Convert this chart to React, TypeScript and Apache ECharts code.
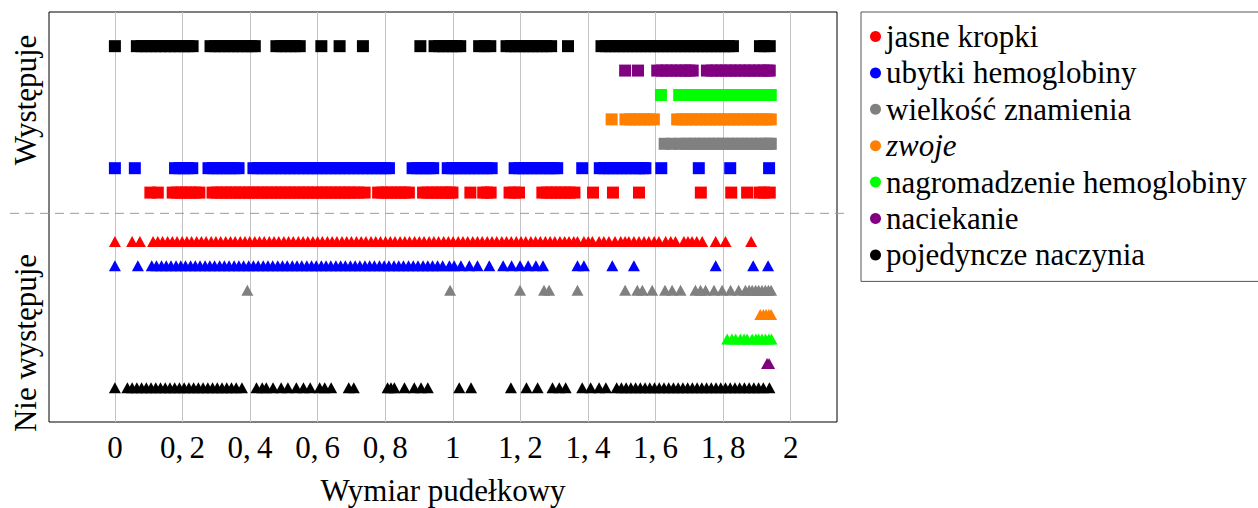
import React, { useEffect, useRef } from 'react';
import * as echarts from 'echarts';

const FONT = 'Liberation Serif';

const features = [
  'jasne kropki',
  'ubytki hemoglobiny',
  'wielkość znamienia',
  'zwoje',
  'nagromadzenie hemoglobiny',
  'naciekanie',
  'pojedyncze naczynia',
];
const colors = ['#ff0000', '#0000ff', '#808080', '#ff8000', '#00ff00', '#800080', '#000000'];
// row positions on the y axis
const presentRow = [8, 9, 10, 11, 12, 13, 14];
const absentRow = [6, 5, 4, 3, 2, 1, 0];
const separatorY = 7.15;
const xTicks = [0, 0.2, 0.4, 0.6, 0.8, 1, 1.2, 1.4, 1.6, 1.8, 2];
const groupLabels = ['Występuje', 'Nie występuje'];
const xTitle = 'Wymiar pudełkowy';

// ---- Występuje (present) ----
const jasneKropkiTak = [0.105, 0.127, 0.171, 0.184, 0.197, 0.211, 0.224, 0.238, 0.25, 0.289, 0.302, 0.316, 0.329, 0.343, 0.356, 0.37, 0.383, 0.397, 0.41, 0.424, 0.437, 0.451, 0.464, 0.478, 0.491, 0.505, 0.518, 0.532, 0.545, 0.559, 0.572, 0.586, 0.599, 0.613, 0.626, 0.64, 0.653, 0.667, 0.68, 0.694, 0.707, 0.721, 0.739, 0.779, 0.792, 0.806, 0.819, 0.833, 0.846, 0.858, 0.87, 0.912, 0.925, 0.939, 0.952, 0.966, 0.979, 0.991, 0.999, 1.052, 1.09, 1.101, 1.112, 1.168, 1.182, 1.196, 1.265, 1.278, 1.292, 1.305, 1.319, 1.332, 1.346, 1.36, 1.415, 1.474, 1.551, 1.734, 1.824, 1.871, 1.908, 1.921, 1.938];
const ubytkiTak = [0, 0.059, 0.178, 0.191, 0.204, 0.217, 0.229, 0.277, 0.29, 0.303, 0.316, 0.329, 0.342, 0.354, 0.366, 0.41, 0.423, 0.437, 0.45, 0.464, 0.477, 0.491, 0.504, 0.518, 0.531, 0.545, 0.558, 0.572, 0.585, 0.599, 0.612, 0.626, 0.639, 0.653, 0.666, 0.68, 0.693, 0.707, 0.72, 0.734, 0.747, 0.761, 0.774, 0.788, 0.8, 0.811, 0.881, 0.894, 0.907, 0.919, 0.931, 0.942, 0.985, 0.998, 1.011, 1.024, 1.037, 1.05, 1.063, 1.076, 1.089, 1.102, 1.115, 1.183, 1.196, 1.209, 1.222, 1.235, 1.248, 1.261, 1.274, 1.287, 1.298, 1.309, 1.383, 1.435, 1.448, 1.461, 1.474, 1.487, 1.5, 1.513, 1.526, 1.539, 1.552, 1.563, 1.57, 1.617, 1.728, 1.821, 1.936];
const wielkoscTak = [1.627, 1.648, 1.671, 1.688, 1.702, 1.716, 1.73, 1.744, 1.758, 1.772, 1.786, 1.8, 1.814, 1.828, 1.842, 1.856, 1.87, 1.884, 1.898, 1.912, 1.926, 1.936, 1.941];
const zwojeTak = [1.47, 1.511, 1.525, 1.539, 1.553, 1.567, 1.581, 1.595, 1.664, 1.678, 1.692, 1.706, 1.72, 1.734, 1.748, 1.762, 1.776, 1.79, 1.804, 1.818, 1.832, 1.846, 1.86, 1.874, 1.888, 1.902, 1.916, 1.93, 1.941];
const nagromadzenieTak = [1.616, 1.67, 1.684, 1.698, 1.712, 1.726, 1.74, 1.754, 1.768, 1.782, 1.796, 1.81, 1.824, 1.838, 1.852, 1.866, 1.88, 1.894, 1.908, 1.922, 1.934, 1.941];
const naciekanieTak = [1.51, 1.548, 1.605, 1.619, 1.633, 1.647, 1.661, 1.675, 1.689, 1.7, 1.71, 1.752, 1.766, 1.78, 1.794, 1.808, 1.822, 1.836, 1.85, 1.864, 1.878, 1.892, 1.906, 1.92, 1.932, 1.938];
const naczyniaTak = [0, 0.065, 0.079, 0.093, 0.107, 0.121, 0.135, 0.149, 0.163, 0.177, 0.191, 0.205, 0.218, 0.23, 0.283, 0.296, 0.31, 0.323, 0.337, 0.35, 0.364, 0.377, 0.391, 0.404, 0.414, 0.478, 0.492, 0.506, 0.52, 0.534, 0.547, 0.611, 0.665, 0.734, 0.904, 0.946, 0.959, 0.972, 0.985, 0.998, 1.011, 1.022, 1.078, 1.095, 1.111, 1.159, 1.172, 1.185, 1.198, 1.211, 1.224, 1.237, 1.25, 1.263, 1.277, 1.291, 1.341, 1.44, 1.453, 1.466, 1.479, 1.492, 1.505, 1.518, 1.531, 1.544, 1.557, 1.57, 1.583, 1.596, 1.609, 1.622, 1.635, 1.648, 1.661, 1.674, 1.687, 1.7, 1.713, 1.726, 1.739, 1.752, 1.765, 1.778, 1.791, 1.804, 1.817, 1.829, 1.909, 1.922, 1.938];

// ---- Nie występuje (absent) ----
const jasneKropkiNie = [0, 0.051, 0.074, 0.113, 0.127, 0.141, 0.156, 0.17, 0.184, 0.199, 0.213, 0.227, 0.242, 0.256, 0.27, 0.285, 0.299, 0.313, 0.328, 0.342, 0.356, 0.371, 0.385, 0.399, 0.414, 0.428, 0.442, 0.457, 0.471, 0.485, 0.5, 0.514, 0.528, 0.543, 0.557, 0.571, 0.586, 0.6, 0.614, 0.629, 0.643, 0.657, 0.672, 0.686, 0.7, 0.715, 0.729, 0.743, 0.758, 0.772, 0.786, 0.801, 0.815, 0.829, 0.844, 0.858, 0.872, 0.887, 0.901, 0.915, 0.93, 0.944, 0.958, 0.973, 0.987, 1.001, 1.016, 1.03, 1.044, 1.059, 1.073, 1.087, 1.102, 1.116, 1.13, 1.145, 1.159, 1.173, 1.188, 1.202, 1.216, 1.231, 1.245, 1.259, 1.274, 1.288, 1.302, 1.317, 1.331, 1.344, 1.358, 1.369, 1.388, 1.401, 1.413, 1.433, 1.447, 1.462, 1.48, 1.497, 1.51, 1.521, 1.536, 1.551, 1.566, 1.58, 1.596, 1.61, 1.63, 1.645, 1.659, 1.684, 1.696, 1.708, 1.722, 1.738, 1.778, 1.807, 1.883];
const ubytkiNie = [0, 0.068, 0.109, 0.123, 0.138, 0.152, 0.166, 0.181, 0.195, 0.209, 0.224, 0.238, 0.252, 0.267, 0.281, 0.295, 0.31, 0.324, 0.338, 0.353, 0.367, 0.381, 0.396, 0.41, 0.424, 0.439, 0.453, 0.467, 0.482, 0.496, 0.51, 0.525, 0.539, 0.553, 0.568, 0.582, 0.596, 0.611, 0.625, 0.639, 0.654, 0.668, 0.682, 0.697, 0.711, 0.725, 0.74, 0.754, 0.768, 0.783, 0.797, 0.811, 0.826, 0.84, 0.854, 0.869, 0.883, 0.897, 0.912, 0.926, 0.94, 0.955, 0.97, 0.99, 1.004, 1.024, 1.049, 1.073, 1.108, 1.149, 1.174, 1.199, 1.223, 1.246, 1.267, 1.369, 1.388, 1.472, 1.536, 1.778, 1.889, 1.933];
const wielkoscNie = [0.392, 0.992, 1.199, 1.27, 1.285, 1.369, 1.51, 1.546, 1.561, 1.59, 1.628, 1.649, 1.674, 1.718, 1.733, 1.748, 1.773, 1.797, 1.822, 1.846, 1.866, 1.877, 1.886, 1.896, 1.905, 1.915, 1.925, 1.934, 1.942];
const zwojeNie = [1.91, 1.919, 1.927, 1.935, 1.942];
const nagromadzenieNie = [1.812, 1.826, 1.837, 1.851, 1.862, 1.871, 1.886, 1.897, 1.905, 1.915, 1.925, 1.935, 1.943];
const naciekanieNie = [1.93, 1.936];
const naczyniaNie = [0, 0.037, 0.051, 0.065, 0.079, 0.093, 0.107, 0.121, 0.135, 0.149, 0.163, 0.177, 0.191, 0.205, 0.219, 0.233, 0.247, 0.261, 0.275, 0.289, 0.303, 0.317, 0.331, 0.345, 0.359, 0.376, 0.419, 0.436, 0.448, 0.468, 0.492, 0.512, 0.537, 0.558, 0.578, 0.606, 0.621, 0.64, 0.692, 0.707, 0.807, 0.817, 0.827, 0.857, 0.886, 0.906, 0.926, 1.019, 1.054, 1.172, 1.218, 1.251, 1.295, 1.315, 1.334, 1.383, 1.408, 1.433, 1.453, 1.485, 1.499, 1.513, 1.527, 1.541, 1.555, 1.569, 1.583, 1.597, 1.611, 1.625, 1.639, 1.653, 1.667, 1.681, 1.695, 1.709, 1.723, 1.737, 1.751, 1.765, 1.779, 1.793, 1.807, 1.821, 1.835, 1.849, 1.863, 1.877, 1.891, 1.905, 1.919, 1.937];

const presentData = [jasneKropkiTak, ubytkiTak, wielkoscTak, zwojeTak, nagromadzenieTak, naciekanieTak, naczyniaTak];
const absentData = [jasneKropkiNie, ubytkiNie, wielkoscNie, zwojeNie, nagromadzenieNie, naciekanieNie, naczyniaNie];

function fmtTick(v: number): string {
  if (Math.abs(v - Math.round(v)) < 1e-9) return String(Math.round(v));
  return v.toFixed(1).replace('.', ',\u2009');
}

export default function App() {
  const ref = useRef<HTMLDivElement | null>(null);

  useEffect(() => {
    if (!ref.current) return;
    const chart = echarts.init(ref.current, undefined, { renderer: 'svg' });

    const series: any[] = [];
    features.forEach((name, i) => {
      series.push({
        type: 'scatter',
        name,
        symbol: 'rect',
        symbolSize: 12,
        itemStyle: { color: colors[i], opacity: 1 },
        data: presentData[i].map((x) => [x, presentRow[i]]),
        emphasis: { disabled: true },
      });
      series.push({
        type: 'scatter',
        name,
        symbol: 'triangle',
        symbolSize: [12, 11],
        itemStyle: { color: colors[i], opacity: 1 },
        data: absentData[i].map((x) => [x, absentRow[i]]),
        emphasis: { disabled: true },
      });
    });

    const legendText = { fontFamily: FONT, fontSize: 31, color: '#000', lineHeight: 30 };

    chart.setOption({
      animation: false,
      textStyle: { fontFamily: FONT },
      grid: {
        left: 49,
        right: 421,
        top: 12,
        bottom: 86,
        show: true,
        borderColor: '#000',
        borderWidth: 1,
        backgroundColor: 'transparent',
        containLabel: false,
        outerBoundsMode: 'none',
      },
      xAxis: {
        type: 'value',
        min: -0.195,
        max: 2.137,
        name: xTitle,
        nameLocation: 'middle',
        nameGap: 53,
        nameTextStyle: { fontFamily: FONT, fontSize: 31, color: '#000' },
        axisLine: { show: false },
        axisTick: { show: false, customValues: xTicks },
        axisLabel: {
          customValues: xTicks,
          formatter: (v: number) => fmtTick(v),
          fontFamily: FONT,
          fontSize: 31,
          color: '#000',
          margin: 10,
        },
        splitLine: { show: true, lineStyle: { color: '#c4c4c4', width: 1 } },
      },
      yAxis: {
        type: 'value',
        min: -1.4,
        max: 15.4,
        axisLine: { show: false },
        axisTick: { show: false },
        axisLabel: { show: false },
        splitLine: { show: false },
      },
      legend: {
        orient: 'vertical',
        left: 861,
        top: 12,
        padding: [9, 30, 11, 9],
        borderColor: '#555',
        borderWidth: 1,
        itemWidth: 11,
        itemHeight: 11,
        itemGap: 5.4,
        icon: 'circle',
        selectedMode: false,
        textStyle: legendText,
        data: features.map((n) =>
          n === 'zwoje'
            ? { name: n, textStyle: { ...legendText, fontStyle: 'italic' } }
            : { name: n, textStyle: { ...legendText } }
        ),
      },
      series,
    });

    const sepY = chart.convertToPixel({ yAxisIndex: 0 }, separatorY) as number;
    chart.setOption({
      graphic: [
        {
          type: 'line',
          shape: { x1: 10, y1: sepY, x2: 845, y2: sepY },
          style: { stroke: '#9a9a9a', lineWidth: 1, lineDash: [9, 6] },
          silent: true,
          z: 10,
        },
        {
          type: 'text',
          x: 25,
          y: 100,
          rotation: Math.PI / 2,
          style: { text: groupLabels[0], font: `31px "${FONT}"`, fill: '#000', align: 'center', verticalAlign: 'middle' },
        },
        {
          type: 'text',
          x: 25,
          y: 343,
          rotation: Math.PI / 2,
          style: { text: groupLabels[1], font: `31px "${FONT}"`, fill: '#000', align: 'center', verticalAlign: 'middle' },
        },
      ],
    });

    return () => {
      chart.dispose();
    };
  }, []);

  return (
    <div
      ref={ref}
      style={{ position: 'absolute', left: 0, top: 0, width: 1258, height: 508, background: '#fff' }}
    />
  );
}
